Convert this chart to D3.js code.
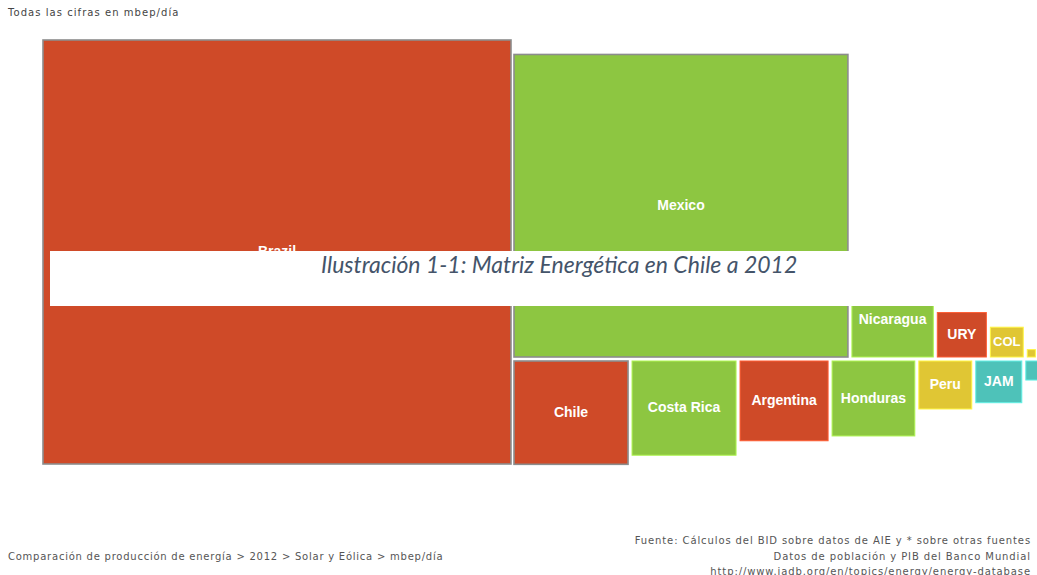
<!DOCTYPE html>
<html>
<head>
<meta charset="utf-8">
<script src="https://cdn.jsdelivr.net/npm/d3@7"></script>
<style>
  html, body { margin: 0; padding: 0; background: #fff; }
  svg { display: block; }
</style>
</head>
<body>
<svg id="chart" width="1037" height="575"></svg>
<script>
// ---- data (mbep/día, Solar y Eólica 2012) ----
const countries = ["Brazil", "Mexico", "Chile", "Costa Rica", "Argentina", "Honduras",
                   "Nicaragua", "Peru", "Uruguay", "Jamaica", "Colombia", "Caribe (otros)", "Andina (otros)"];
const labels    = ["Brazil", "Mexico", "Chile", "Costa Rica", "Argentina", "Honduras",
                   "Nicaragua", "Peru", "URY", "JAM", "COL", "", ""];
const values    = [9.92, 5.05, 0.589, 0.490, 0.351, 0.310, 0.300, 0.127, 0.109, 0.096, 0.049, 0.020, 0.003];
const regions   = ["Cono Sur", "Centroamérica", "Cono Sur", "Centroamérica", "Cono Sur", "Centroamérica",
                   "Centroamérica", "Andina", "Cono Sur", "Caribe", "Andina", "Caribe", "Andina"];
const regionNames  = ["Cono Sur", "Centroamérica", "Andina", "Caribe"];
const regionColors = ["#cf4a28", "#8dc641", "#e0c634", "#4ec2b9"];
const highlighted  = ["Brazil", "Mexico", "Chile"];

const topNote = "Todas las cifras en mbep/día";
const breadcrumb = "Comparación de producción de energía > 2012 > Solar y Eólica > mbep/día";
const sourceLines = ["Fuente: Cálculos del BID sobre datos de AIE y * sobre otras fuentes",
                     "Datos de población y PIB del Banco Mundial",
                     "http://www.iadb.org/en/topics/energy/energy-database"];
const caption = "Ilustración 1-1: Matriz Energética en Chile a 2012";

// ---- layout ----
const svg = d3.select("#chart");
const left0 = 43, top0 = 40, gap = 4, aspect = 424 / 468;
const side = d3.scaleSqrt().domain([0, d3.max(values)]).range([0, 468]);
const color = d3.scaleOrdinal().domain(regionNames).range(regionColors);

const items = countries.map((c, i) => ({ name: c, label: labels[i], value: values[i], region: regions[i] }))
  .sort((a, b) => b.value - a.value);

// first (largest) item on the left, the rest packed into two rows (shortest row first)
const first = items[0];
first.w = side(first.value); first.h = first.w * aspect;
first.x = left0; first.y = top0;
const startX = first.x + first.w + 3;
const midTop = 357, midBottom = 361;
const rowEnd = [startX, startX];
items.slice(1).forEach(d => {
  d.w = side(d.value); d.h = d.w * aspect;
  const r = rowEnd[0] <= rowEnd[1] ? 0 : 1;
  d.x = rowEnd[r];
  d.y = r === 0 ? midTop - d.h : midBottom;
  rowEnd[r] = d.x + d.w + gap;
});

const g = svg.append("g");
const cells = g.selectAll("g.cell").data(items).join("g").attr("class", "cell");
cells.append("rect")
  .attr("x", d => d.x).attr("y", d => d.y)
  .attr("width", d => d.w).attr("height", d => d.h)
  .attr("fill", d => color(d.region))
  .attr("stroke", d => highlighted.includes(d.name) ? "#8c8c8c" : d3.color(color(d.region)).brighter(0.6))
  .attr("stroke-width", d => highlighted.includes(d.name) ? 1.6 : 1);

cells.filter(d => d.label).append("text")
  .attr("x", d => d.x + d.w / 2)
  .attr("y", d => d.y + d.h / 2)
  .attr("dy", "0.3em")
  .attr("text-anchor", "middle")
  .attr("fill", "#fff")
  .attr("font-family", "'Liberation Sans', Arial, sans-serif")
  .attr("font-weight", "bold")
  .attr("font-size", d => d.w < 40 ? 13 : 14)
  .text(d => d.label);

// ---- texts ----
const small = "'DejaVu Sans', Verdana, sans-serif";
svg.append("text").attr("x", 8).attr("y", 16)
  .attr("font-family", small).attr("font-size", 10).attr("letter-spacing", 1.05)
  .attr("fill", "#444").text(topNote);

svg.append("text").attr("x", 8).attr("y", 560)
  .attr("font-family", small).attr("font-size", 10).attr("letter-spacing", 0.76)
  .attr("fill", "#555").text(breadcrumb);

svg.append("g").selectAll("text").data(sourceLines).join("text")
  .attr("x", 1031).attr("y", (d, i) => 544 + i * 15.5)
  .attr("text-anchor", "end")
  .attr("font-family", small).attr("font-size", 10).attr("letter-spacing", 0.9)
  .attr("fill", "#555").text(d => d);

// ---- caption overlay ----
svg.append("rect").attr("x", 50).attr("y", 251).attr("width", 987).attr("height", 55).attr("fill", "#fff");
svg.append("text").attr("x", 321).attr("y", 273)
  .attr("font-family", "Lato, 'Open Sans', sans-serif").attr("font-style", "italic")
  .attr("font-size", 23).attr("fill", "#44546a").text(caption);
</script>
</body>
</html>
